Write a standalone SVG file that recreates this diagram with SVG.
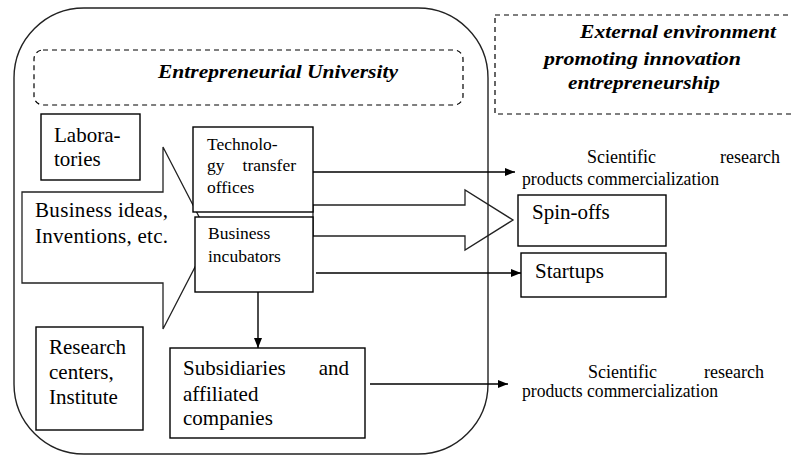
<svg xmlns="http://www.w3.org/2000/svg" width="792" height="456" viewBox="0 0 792 456">
<defs>
<marker id="ah" viewBox="0 0 10 10" refX="10" refY="5" markerWidth="10" markerHeight="10" markerUnits="userSpaceOnUse" orient="auto">
<path d="M0,1 L10,5 L0,9 Z" fill="#000"/>
</marker>
</defs>
<style>
.box{fill:#fff;stroke:#000;stroke-width:1.4}
.dash{fill:#fff;stroke:#000;stroke-width:1.2;stroke-dasharray:5,4}
.shape{fill:#fff;stroke:#222;stroke-width:1.3}
.frame{fill:none;stroke:#222;stroke-width:1.4}
.conn{fill:none;stroke:#000;stroke-width:1.4;marker-end:url(#ah)}
</style>
<rect width="792" height="456" fill="#fff"/>

<g id="connectors">
<polygon class="shape" points="313,205 465,205 465,190 513,220 465,250 465,236 313,236"/>
</g>

<g id="entrepreneurial-university-frame">
<rect class="frame" x="14" y="8" width="474" height="446" rx="70" ry="70"/>
</g>

<g id="title" font-family="Liberation Serif, serif" font-size="19" font-weight="bold" font-style="italic">
<rect class="dash" x="34" y="50" width="429" height="55" rx="9" ry="9"/>
<text x="158" y="78" textLength="240" lengthAdjust="spacingAndGlyphs">Entrepreneurial  University</text>
</g>

<g id="external-environment" font-family="Liberation Serif, serif" font-size="19" font-weight="bold" font-style="italic">
<rect class="dash" x="495" y="15" width="310" height="99"/>
<text x="580" y="38" textLength="196" lengthAdjust="spacingAndGlyphs">External environment</text>
<text x="544" y="65" textLength="197" lengthAdjust="spacingAndGlyphs">promoting innovation</text>
<text x="568" y="89" textLength="152" lengthAdjust="spacingAndGlyphs">entrepreneurship</text>
</g>

<g id="business-ideas" font-family="Liberation Serif, serif" font-size="21">
<polygon class="shape" points="22,192 163,192 163,147 210,238 163,329 163,283 22,283"/>
<text x="35" y="217" textLength="133" lengthAdjust="spacing">Business ideas,</text>
<text x="35" y="243" textLength="133" lengthAdjust="spacing">Inventions, etc.</text>
</g>

<g id="laboratories" font-family="Liberation Serif, serif" font-size="21">
<rect class="box" x="41" y="114" width="99" height="66"/>
<text x="54" y="142">Labora-</text>
<text x="54" y="166">tories</text>
</g>

<g id="research-centers" font-family="Liberation Serif, serif" font-size="21">
<rect class="box" x="36" y="327" width="107" height="103"/>
<text x="49" y="354">Research</text>
<text x="49" y="379">centers,</text>
<text x="49" y="404">Institute</text>
</g>

<g id="technology-transfer-offices" font-family="Liberation Serif, serif" font-size="17.5">
<rect class="box" x="193" y="127" width="120" height="85"/>
<text x="207" y="150">Technolo-</text>
<text x="207" y="171">gy</text>
<text x="296" y="171" text-anchor="end">transfer</text>
<text x="207" y="193">offices</text>
</g>

<g id="business-incubators" font-family="Liberation Serif, serif" font-size="17.5">
<rect class="box" x="195" y="217" width="118" height="75"/>
<text x="208" y="239">Business</text>
<text x="208" y="262">incubators</text>
</g>

<g id="subsidiaries" font-family="Liberation Serif, serif" font-size="21">
<rect class="box" x="170" y="348" width="195" height="90"/>
<text x="183" y="375">Subsidiaries</text>
<text x="349" y="375" text-anchor="end">and</text>
<text x="183" y="401">affiliated</text>
<text x="183" y="425">companies</text>
</g>

<g id="spin-offs" font-family="Liberation Serif, serif" font-size="21">
<rect class="box" x="518" y="195" width="148" height="51"/>
<text x="532" y="219">Spin-offs</text>
</g>

<g id="startups" font-family="Liberation Serif, serif" font-size="21">
<rect class="box" x="521" y="253" width="145" height="44"/>
<text x="535" y="278">Startups</text>
</g>

<g id="commercialization-1" font-family="Liberation Serif, serif" font-size="18">
<text x="587" y="163">Scientific</text>
<text x="780" y="163" text-anchor="end">research</text>
<text x="522" y="185" textLength="197" lengthAdjust="spacingAndGlyphs">products commercialization</text>
</g>

<g id="commercialization-2" font-family="Liberation Serif, serif" font-size="18">
<text x="588" y="378">Scientific</text>
<text x="764" y="378" text-anchor="end">research</text>
<text x="522" y="397" textLength="196" lengthAdjust="spacingAndGlyphs">products commercialization</text>
</g>

<g id="arrows">
<line class="conn" x1="313" y1="172" x2="515" y2="172"/>
<line class="conn" x1="316" y1="273" x2="521" y2="273"/>
<line class="conn" x1="258" y1="292" x2="258" y2="348"/>
<line class="conn" x1="370" y1="384" x2="508" y2="384"/>
</g>
</svg>
